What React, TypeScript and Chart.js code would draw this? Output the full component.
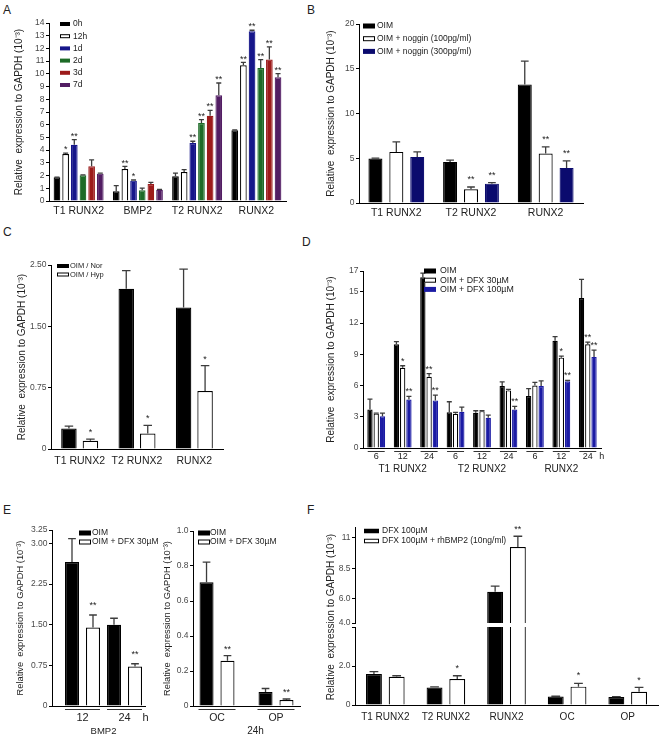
import React, { useEffect, useRef } from 'react';
import { Chart, registerables } from 'chart.js';

Chart.register(...registerables);

const FONT = '"Liberation Sans", Arial, Helvetica, sans-serif';
Chart.defaults.font.family = FONT;
const Y_TITLE = 'Relative  expression to GAPDH (10\u207B\u00B3)';

// ---------------- Panel A ----------------
const aCategories = ['T1 RUNX2', 'BMP2', 'T2 RUNX2', 'RUNX2'];
const aSeriesLabels = ['0h', '12h', '1d', '2d', '3d', '7d'];
const a0h = [1.86, 0.76, 1.94, 5.56];
const a12h = [3.7, 2.52, 2.28, 10.67];
const a1d = [4.43, 1.6, 4.56, 13.35];
const a2d = [2.02, 0.84, 6.14, 10.46];
const a3d = [2.73, 1.34, 6.71, 11.12];
const a7d = [2.15, 0.89, 8.31, 9.73];
const a0hErr = [0.02, 0.45, 0.26, 0.04];
const a12hErr = [0.06, 0.2, 0.18, 0.23];
const a1dErr = [0.4, 0.05, 0.14, 0.08];
const a2dErr = [0.04, 0.18, 0.26, 0.66];
const a3dErr = [0.5, 0.12, 0.42, 1.0];
const a7dErr = [0.04, 0.03, 0.97, 0.29];
const a0hStars = ['', '', '', ''];
const a12hStars = ['*', '**', '', '**'];
const a1dStars = ['**', '*', '**', '**'];
const a2dStars = ['', '', '**', '**'];
const a3dStars = ['', '', '**', '**'];
const a7dStars = ['', '', '**', '**'];
const aTicks = [0, 1, 2, 3, 4, 5, 6, 7, 8, 9, 10, 11, 12, 13, 14];
const aTickLabels = ['0', '1', '2', '3', '4', '5', '6', '7', '8', '9', '10', '11', '12', '13', '14'];

// ---------------- Panel B ----------------
const bCategories = ['T1 RUNX2', 'T2 RUNX2', 'RUNX2'];
const bSeriesLabels = ['OIM', 'OIM + noggin (100pg/ml)', 'OIM + noggin (300pg/ml)'];
const bOIM = [4.96, 4.59, 13.25];
const bNog100 = [5.71, 1.53, 5.52];
const bNog300 = [5.15, 2.16, 3.92];
const bOIMErr = [0.05, 0.19, 2.6];
const bNog100Err = [1.12, 0.26, 0.75];
const bNog300Err = [0.56, 0.12, 0.78];
const bOIMStars = ['', '', ''];
const bNog100Stars = ['', '**', '**'];
const bNog300Stars = ['', '**', '**'];
const bTicks = [0, 5, 10, 15, 20];
const bTickLabels = ['0', '5', '10', '15', '20'];

// ---------------- Panel C ----------------
const cCategories = ['T1 RUNX2', 'T2 RUNX2', 'RUNX2'];
const cSeriesLabels = ['OIM / Nor', 'OIM / Hyp'];
const cNor = [0.25, 1.96, 1.73];
const cHyp = [0.1, 0.19, 0.71];
const cNorErr = [0.03, 0.22, 0.47];
const cHypErr = [0.02, 0.1, 0.31];
const cNorStars = ['', '', ''];
const cHypStars = ['*', '*', '*'];
const cTicks = [0, 0.75, 1.5, 2.25];
const cTickLabels = ['0', '0.75', '1.50', '2.50'];

// ---------------- Panel D ----------------
const dCategories = ['6', '12', '24', '6', '12', '24', '6', '12', '24'];
const dGroups = ['T1 RUNX2', 'T2 RUNX2', 'RUNX2'];
const dSeriesLabels = ['OIM', 'OIM + DFX 30\u00B5M', 'OIM + DFX 100\u00B5M'];
const dOIM = [3.7, 9.97, 16.4, 3.44, 3.38, 5.95, 5.0, 10.3, 14.4];
const dDFX30 = [3.3, 7.7, 6.85, 3.28, 3.54, 5.53, 6.0, 8.68, 9.97];
const dDFX100 = [3.05, 4.66, 4.57, 3.47, 2.9, 3.7, 5.95, 6.4, 8.75];
const dOIMErr = [1.0, 0.25, 0.4, 1.0, 0.2, 0.4, 0.7, 0.4, 1.8];
const dDFX30Err = [0.05, 0.2, 0.3, 0.15, 0.05, 0.1, 0.3, 0.15, 0.2];
const dDFX100Err = [0.3, 0.3, 0.5, 0.45, 0.25, 0.3, 0.5, 0.1, 0.65];
const dOIMStars = ['', '', '', '', '', '', '', '', ''];
const dDFX30Stars = ['', '*', '**', '', '', '', '', '*', '**'];
const dDFX100Stars = ['', '**', '**', '', '', '**', '', '**', '**'];
const dTicks = [0, 3, 6, 9, 12, 15, 17];
const dTickLabels = ['0', '3', '6', '9', '12', '15', '17'];

// ---------------- Panel E ----------------
const eSeriesLabels = ['OIM', 'OIM + DFX 30\u00B5M'];
const e1Categories = ['12', '24'];
const e1OIM = [2.66, 1.5];
const e1DFX = [1.45, 0.73];
const e1OIMErr = [0.43, 0.12];
const e1DFXErr = [0.23, 0.05];
const e1OIMStars = ['', ''];
const e1DFXStars = ['**', '**'];
const e1Ticks = [0, 0.75, 1.5, 2.25, 3, 3.25];
const e1TickLabels = ['0', '0.75', '1.50', '2.25', '3.00', '3.25'];
const e2Categories = ['OC', 'OP'];
const e2OIM = [0.707, 0.08];
const e2DFX = [0.258, 0.034];
const e2OIMErr = [0.115, 0.02];
const e2DFXErr = [0.03, 0.006];
const e2OIMStars = ['', ''];
const e2DFXStars = ['**', '**'];
const e2Ticks = [0, 0.2, 0.4, 0.6, 0.8, 1.0];
const e2TickLabels = ['0', '0.2', '0.4', '0.6', '0.8', '1.0'];

// ---------------- Panel F ----------------
const fCategories = ['T1 RUNX2', 'T2 RUNX2', 'RUNX2', 'OC', 'OP'];
const fSeriesLabels = ['DFX 100\u00B5M', 'DFX 100\u00B5M + rhBMP2 (10ng/ml)'];
const fDFX = [1.59, 0.9, 6.57, 0.43, 0.41];
const fBMP = [1.45, 1.33, 10.26, 0.94, 0.68];
const fDFXErr = [0.12, 0.03, 0.46, 0.02, 0.02];
const fBMPErr = [0.05, 0.17, 0.88, 0.17, 0.22];
const fDFXStars = ['', '', '', '', ''];
const fBMPStars = ['', '*', '**', '*', '*'];
const fUpperTicks = [4, 6, 8.5, 11];
const fUpperTickLabels = ['4.0', '6.0', '8.5', '11'];
const fLowerTicks = [0, 2, 4];
const fLowerTickLabels = ['0', '2.0', ''];

// ---------------- colours ----------------
const BLACK = '#000000';
const WHITE = '#ffffff';
const A_COLORS = ['#000000', '#ffffff', '#16168a', '#1d6b27', '#9c1b1b', '#521d63'];
const B_NAVY = '#0b0b6e';
const D_BLUE = '#1b1ba4';

type DS = { label: string; data: number[]; err: number[]; stars: string[]; color: string };
type Spec = {
  key: string;
  box: [number, number, number, number];
  area: [number, number, number, number];
  labels: string[];
  linearX?: [number, number];
  ds: DS[];
  yMin: number;
  yMax: number;
  yTicks: number[];
  yLabels: string[];
  yTitle?: { text: string; cx: number; size: number };
  showXTicks: boolean;
  xTickSize?: number;
  xTickPad?: number;
  xBorder: boolean;
  cp: number;
  bp: number;
  legend?: { x: number; y: number; dy: number; bw: number; bh: number; tx: number; size: number };
  starGap: number;
  starSize: number;
  decor?: {
    subY: number;
    subSize: number;
    ul?: { y: number; w: number };
    groups?: { text: string; at: number; dx?: number }[];
    groupY?: number;
    groupSize?: number;
    suffix?: { text: string; dx: number };
  };
  vTitle?: { text: string; cx: number; cy: number; size: number };
};

function mk(label: string, data: number[], err: number[], stars: string[], color: string): DS {
  return { label, data, err, stars, color };
}

const specA: Spec = {
  key: 'A',
  box: [0, 15, 300, 212],
  area: [49, 23, 286, 201],
  labels: aCategories,
  ds: [
    mk(aSeriesLabels[0], a0h, a0hErr, a0hStars, A_COLORS[0]),
    mk(aSeriesLabels[1], a12h, a12hErr, a12hStars, A_COLORS[1]),
    mk(aSeriesLabels[2], a1d, a1dErr, a1dStars, A_COLORS[2]),
    mk(aSeriesLabels[3], a2d, a2dErr, a2dStars, A_COLORS[3]),
    mk(aSeriesLabels[4], a3d, a3dErr, a3dStars, A_COLORS[4]),
    mk(aSeriesLabels[5], a7d, a7dErr, a7dStars, A_COLORS[5]),
  ],
  yMin: 0, yMax: 14, yTicks: aTicks, yLabels: aTickLabels,
  yTitle: { text: Y_TITLE, cx: 19, size: 10 },
  showXTicks: true, xTickSize: 10.5, xTickPad: 4, xBorder: true,
  cp: 0.877, bp: 0.77,
  legend: { x: 60, y: 24, dy: 12.2, bw: 10, bh: 4, tx: 73, size: 8.5 },
  starGap: 6, starSize: 9,
};

const specB: Spec = {
  key: 'B',
  box: [318, 15, 280, 212],
  area: [359, 24, 583, 203],
  labels: bCategories,
  ds: [
    mk(bSeriesLabels[0], bOIM, bOIMErr, bOIMStars, BLACK),
    mk(bSeriesLabels[1], bNog100, bNog100Err, bNog100Stars, WHITE),
    mk(bSeriesLabels[2], bNog300, bNog300Err, bNog300Stars, B_NAVY),
  ],
  yMin: 0, yMax: 20, yTicks: bTicks, yLabels: bTickLabels,
  yTitle: { text: Y_TITLE, cx: 331, size: 10 },
  showXTicks: true, xTickSize: 10.5, xTickPad: 3.5, xBorder: true,
  cp: 0.84, bp: 0.67,
  legend: { x: 363, y: 26, dy: 12.7, bw: 12, bh: 5, tx: 377, size: 8.5 },
  starGap: 10, starSize: 9,
};

const specC: Spec = {
  key: 'C',
  box: [0, 255, 240, 215],
  area: [51, 265, 223, 449],
  labels: cCategories,
  ds: [
    mk(cSeriesLabels[0], cNor, cNorErr, cNorStars, BLACK),
    mk(cSeriesLabels[1], cHyp, cHypErr, cHypStars, WHITE),
  ],
  yMin: 0, yMax: 2.25, yTicks: cTicks, yLabels: cTickLabels,
  yTitle: { text: Y_TITLE, cx: 22, size: 10 },
  showXTicks: true, xTickSize: 10.5, xTickPad: 6, xBorder: true,
  cp: 0.75, bp: 0.72,
  legend: { x: 57, y: 266, dy: 8.5, bw: 12, bh: 4, tx: 70, size: 7.5 },
  starGap: 9, starSize: 9,
};

const specD: Spec = {
  key: 'D',
  box: [318, 255, 300, 225],
  area: [363, 271, 601, 448],
  labels: dCategories,
  ds: [
    mk(dSeriesLabels[0], dOIM, dOIMErr, dOIMStars, BLACK),
    mk(dSeriesLabels[1], dDFX30, dDFX30Err, dDFX30Stars, WHITE),
    mk(dSeriesLabels[2], dDFX100, dDFX100Err, dDFX100Stars, D_BLUE),
  ],
  yMin: 0, yMax: 17, yTicks: dTicks, yLabels: dTickLabels,
  yTitle: { text: Y_TITLE, cx: 331, size: 10 },
  showXTicks: false, xBorder: true,
  cp: 0.71, bp: 0.85,
  legend: { x: 424, y: 271, dy: 9.2, bw: 12, bh: 5, tx: 440, size: 8.8 },
  starGap: 7, starSize: 9,
  decor: {
    subY: 456.5, subSize: 9, ul: { y: 451, w: 17 },
    groups: [
      { text: dGroups[0], at: 1 },
      { text: dGroups[1], at: 4 },
      { text: dGroups[2], at: 7 },
    ],
    groupY: 469.5, groupSize: 10,
    suffix: { text: 'h', dx: 14 },
  },
};

const specE1: Spec = {
  key: 'E1',
  box: [0, 515, 165, 223],
  area: [52, 530, 145, 706],
  labels: e1Categories,
  linearX: [-0.726, 1.488],
  ds: [
    mk(eSeriesLabels[0], e1OIM, e1OIMErr, e1OIMStars, BLACK),
    mk(eSeriesLabels[1], e1DFX, e1DFXErr, e1DFXStars, WHITE),
  ],
  yMin: 0, yMax: 3.25, yTicks: e1Ticks, yLabels: e1TickLabels,
  yTitle: { text: Y_TITLE, cx: 20, size: 9.3 },
  showXTicks: false, xBorder: true,
  cp: 1.0, bp: 0.667,
  legend: { x: 79, y: 533, dy: 9, bw: 12, bh: 5, tx: 92, size: 8.5 },
  starGap: 12, starSize: 9,
  decor: {
    subY: 718, subSize: 11, ul: { y: 709, w: 35 },
    groups: [{ text: 'BMP2', at: 0.5 }],
    groupY: 731, groupSize: 9.5,
    suffix: { text: 'h', dx: 21 },
  },
};

const specE2: Spec = {
  key: 'E2',
  box: [150, 515, 165, 223],
  area: [193, 531, 300, 706],
  labels: e2Categories,
  linearX: [-0.4068, 1.4068],
  ds: [
    mk(eSeriesLabels[0], e2OIM, e2OIMErr, e2OIMStars, BLACK),
    mk(eSeriesLabels[1], e2DFX, e2DFXErr, e2DFXStars, WHITE),
  ],
  yMin: 0, yMax: 1.0, yTicks: e2Ticks, yLabels: e2TickLabels,
  yTitle: { text: Y_TITLE, cx: 167, size: 9.3 },
  showXTicks: false, xBorder: true,
  cp: 0.71, bp: 0.67,
  legend: { x: 198, y: 533, dy: 9, bw: 12, bh: 5, tx: 210, size: 8.5 },
  starGap: 9, starSize: 9,
  decor: {
    subY: 718, subSize: 10.5, ul: { y: 709, w: 37 },
    groups: [{ text: '24h', at: 0.5, dx: 9 }],
    groupY: 731, groupSize: 10,
  },
};

const fDatasets = [
  mk(fSeriesLabels[0], fDFX, fDFXErr, fDFXStars, BLACK),
  mk(fSeriesLabels[1], fBMP, fBMPErr, fBMPStars, WHITE),
];

const specFUpper: Spec = {
  key: 'F1',
  box: [318, 505, 344, 125],
  area: [355, 527, 658, 623],
  labels: fCategories,
  ds: fDatasets,
  yMin: 4, yMax: 11.9, yTicks: fUpperTicks, yLabels: fUpperTickLabels,
  showXTicks: false, xBorder: false,
  cp: 0.75, bp: 0.7,
  legend: { x: 364, y: 531, dy: 10, bw: 15, bh: 4.5, tx: 382, size: 8.5 },
  starGap: 9, starSize: 9,
};

const specFLower: Spec = {
  key: 'F2',
  box: [318, 505, 344, 233],
  area: [355, 627, 658, 705],
  labels: fCategories,
  ds: fDatasets,
  yMin: 0, yMax: 4, yTicks: fLowerTicks, yLabels: fLowerTickLabels,
  showXTicks: true, xTickSize: 10, xTickPad: 6, xBorder: true,
  cp: 0.75, bp: 0.7,
  starGap: 10, starSize: 9,
  vTitle: { text: Y_TITLE, cx: 331, cy: 617, size: 10 },
};

const SPECS: Spec[] = [specA, specB, specC, specD, specE1, specE2, specFUpper, specFLower];

const LETTERS: { t: string; x: number; y: number }[] = [
  { t: 'A', x: 3, y: 5 },
  { t: 'B', x: 307, y: 5 },
  { t: 'C', x: 3, y: 227 },
  { t: 'D', x: 302, y: 237 },
  { t: 'E', x: 3, y: 505 },
  { t: 'F', x: 307, y: 505 },
];

function decorPlugin(s: Spec) {
  return {
    id: 'decor' + s.key,
    afterDatasetsDraw(chart: any) {
      const ctx: CanvasRenderingContext2D = chart.ctx;
      const [L, T] = s.box;
      const ys = chart.scales.y;
      const xs = chart.scales.x;
      // error bars and significance stars
      s.ds.forEach((d, di) => {
        const meta = chart.getDatasetMeta(di);
        meta.data.forEach((el: any, i: number) => {
          const v = d.data[i];
          if (v < ys.min - 1e-9 || v > ys.max + 1e-9) return;
          const e = d.err[i] || 0;
          const x = el.x;
          const yb = el.y;
          const w = el.width;
          const yt = ys.getPixelForValue(v + e);
          ctx.save();
          if (e > 0) {
            const cap = Math.max(5, w * 0.55);
            ctx.strokeStyle = '#3c3c3c';
            ctx.lineWidth = 1.3;
            ctx.beginPath();
            ctx.moveTo(x, yb);
            ctx.lineTo(x, yt);
            ctx.moveTo(x - cap / 2, yt);
            ctx.lineTo(x + cap / 2, yt);
            ctx.stroke();
          }
          const st = d.stars[i];
          if (st) {
            ctx.fillStyle = '#222';
            ctx.font = `${s.starSize}px ${FONT}`;
            ctx.textAlign = 'center';
            ctx.textBaseline = 'alphabetic';
            ctx.fillText(st, x, yt - s.starGap + 0.57 * s.starSize);
          }
          ctx.restore();
        });
      });
      // legend
      if (s.legend) {
        const lg = s.legend;
        ctx.save();
        ctx.font = `${lg.size}px ${FONT}`;
        ctx.textAlign = 'left';
        ctx.textBaseline = 'middle';
        s.ds.forEach((d, i) => {
          const cy = lg.y - T + i * lg.dy;
          const bx = lg.x - L;
          ctx.fillStyle = d.color;
          ctx.fillRect(bx, cy - lg.bh / 2, lg.bw, lg.bh);
          if (d.color === WHITE) {
            ctx.strokeStyle = '#000';
            ctx.lineWidth = 1;
            ctx.strokeRect(bx + 0.5, cy - lg.bh / 2 + 0.5, lg.bw - 1, lg.bh - 1);
          }
          ctx.fillStyle = '#222';
          ctx.fillText(d.label, lg.tx - L, cy);
        });
        ctx.restore();
      }
      // custom x labels
      if (s.decor) {
        const dc = s.decor;
        ctx.save();
        ctx.fillStyle = '#222';
        ctx.textAlign = 'center';
        ctx.textBaseline = 'middle';
        ctx.font = `${dc.subSize}px ${FONT}`;
        s.labels.forEach((lab, i) => {
          const px = xs.getPixelForValue(i);
          ctx.fillText(lab, px, dc.subY - T);
          if (dc.ul) {
            ctx.strokeStyle = '#333';
            ctx.lineWidth = 1;
            ctx.beginPath();
            ctx.moveTo(px - dc.ul.w / 2, Math.round(dc.ul.y - T) + 0.5);
            ctx.lineTo(px + dc.ul.w / 2, Math.round(dc.ul.y - T) + 0.5);
            ctx.stroke();
          }
        });
        if (dc.suffix) {
          const px = xs.getPixelForValue(s.labels.length - 1) + dc.suffix.dx;
          ctx.fillText(dc.suffix.text, px, dc.subY - T);
        }
        if (dc.groups && dc.groupY !== undefined) {
          ctx.font = `${dc.groupSize}px ${FONT}`;
          dc.groups.forEach((g) => {
            const px = xs.getPixelForValue(g.at) + (g.dx || 0);
            ctx.fillText(g.text, px, (dc.groupY as number) - T);
          });
        }
        ctx.restore();
      }
      // free vertical title
      if (s.vTitle) {
        const vt = s.vTitle;
        ctx.save();
        ctx.translate(vt.cx - L, vt.cy - T);
        ctx.rotate(-Math.PI / 2);
        ctx.fillStyle = '#222';
        ctx.font = `${vt.size}px ${FONT}`;
        ctx.textAlign = 'center';
        ctx.textBaseline = 'middle';
        ctx.fillText(vt.text, 0, 0);
        ctx.restore();
      }
    },
  };
}

function buildConfig(s: Spec): any {
  const [L, T, W, H] = s.box;
  const [al, at, ar, ab] = s.area;
  const linear = !!s.linearX;
  const datasets = s.ds.map((d) => ({
    label: d.label,
    data: linear ? d.data.map((v, i) => ({ x: i, y: v })) : d.data,
    backgroundColor: d.color,
    borderColor: d.color === WHITE ? '#000' : d.color,
    borderWidth: 1.2,
    categoryPercentage: s.cp,
    barPercentage: s.bp,
    clip: 0,
  }));
  const xScale: any = {
    grid: { display: false, drawTicks: false },
    border: { display: s.xBorder, color: '#000', width: 1 },
    ticks: {
      display: s.showXTicks,
      font: { size: s.xTickSize || 10, family: FONT },
      color: '#222',
      padding: s.xTickPad || 0,
      maxRotation: 0,
      minRotation: 0,
      autoSkip: false,
    },
    afterFit: (sc: any) => {
      sc.height = T + H - ab;
    },
  };
  if (linear) {
    xScale.type = 'linear';
    xScale.min = (s.linearX as [number, number])[0];
    xScale.max = (s.linearX as [number, number])[1];
    xScale.offset = false;
    xScale.ticks.display = false;
  } else {
    xScale.type = 'category';
    xScale.offset = true;
  }
  const yScale: any = {
    type: 'linear',
    min: s.yMin,
    max: s.yMax,
    afterBuildTicks: (sc: any) => {
      sc.ticks = s.yTicks.map((v) => ({ value: v }));
    },
    ticks: {
      callback: (_v: any, i: number) => s.yLabels[i],
      font: { size: 8.5, family: FONT },
      color: '#4a4a4a',
      padding: 1.5,
      autoSkip: false,
    },
    grid: { display: true, drawOnChartArea: false, drawTicks: true, tickLength: 3, color: '#000', lineWidth: 1 },
    border: { display: true, color: '#000', width: 1 },
    afterFit: (sc: any) => {
      sc.width = al - L;
    },
  };
  if (s.yTitle) {
    const lh = s.yTitle.size * 1.2;
    yScale.title = {
      display: true,
      text: s.yTitle.text,
      color: '#222',
      font: { size: s.yTitle.size, family: FONT },
      padding: { top: s.yTitle.cx - L - lh / 2, bottom: 0 },
    };
  }
  return {
    type: 'bar',
    data: { labels: linear ? undefined : s.labels, datasets },
    options: {
      animation: false,
      responsive: false,
      maintainAspectRatio: false,
      devicePixelRatio: 1,
      events: [],
      layout: { padding: { left: 0, top: at - T, right: L + W - ar, bottom: 0 } },
      plugins: { legend: { display: false }, tooltip: { enabled: false }, title: { display: false } },
      scales: { x: xScale, y: yScale },
    },
    plugins: [decorPlugin(s)],
  };
}

function Panel({ spec }: { spec: Spec }) {
  const ref = useRef<HTMLCanvasElement>(null);
  useEffect(() => {
    const c = ref.current;
    if (!c) return;
    const chart = new Chart(c, buildConfig(spec));
    return () => chart.destroy();
  }, [spec]);
  const [L, T, W, H] = spec.box;
  return (
    <canvas
      ref={ref}
      width={W}
      height={H}
      style={{ position: 'absolute', left: L, top: T, width: W, height: H }}
    />
  );
}

export default function App() {
  return (
    <div
      style={{
        position: 'absolute',
        left: 0,
        top: 0,
        width: 662,
        height: 738,
        background: '#fff',
        overflow: 'hidden',
        fontFamily: FONT,
      }}
    >
      {LETTERS.map((l) => (
        <div
          key={l.t}
          style={{
            position: 'absolute',
            left: l.x,
            top: l.y - 1.4,
            fontSize: 12,
            lineHeight: '12px',
            color: '#222',
            fontFamily: FONT,
          }}
        >
          {l.t}
        </div>
      ))}
      {SPECS.map((s) => (
        <Panel key={s.key} spec={s} />
      ))}
    </div>
  );
}
